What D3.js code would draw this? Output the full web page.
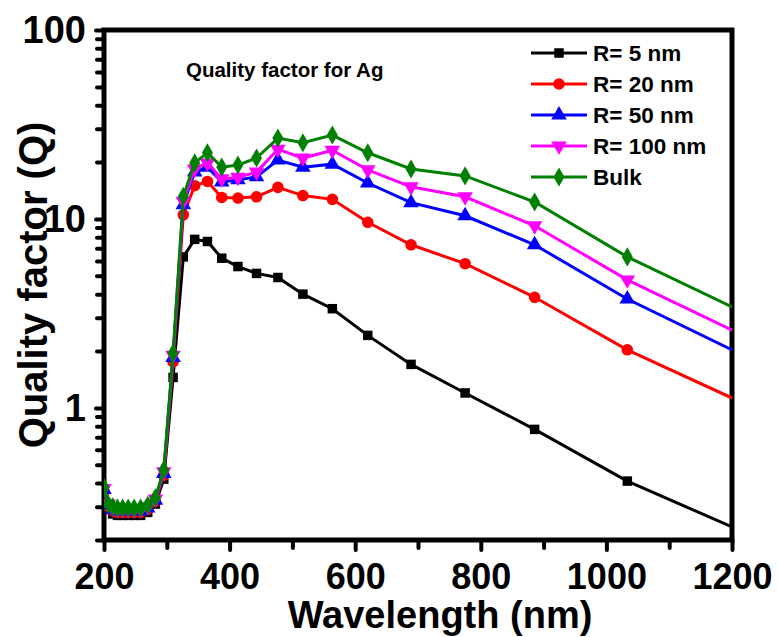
<!DOCTYPE html>
<html lang="en">
<head>
<meta charset="utf-8">
<title>Quality factor for Ag</title>
<script src="https://cdnjs.cloudflare.com/ajax/libs/d3/7.8.5/d3.min.js"></script>
<style>
    body { margin: 0; background: #fff; }
    text { font-family: "Liberation Sans", Arial, sans-serif; font-weight: bold; fill: #000; }
    .tick line { stroke: #000; stroke-linecap: round; }
    .domain { display: none; }
</style>
</head>
<body>
<script>
    var width = 778,
        height = 637;

    // wavelength (nm) of every point, 1240/E for E = 6.2 ... 1.0 eV
    var wavelength = [200, 206.7, 213.8, 221.4, 229.6, 238.5, 248, 258.3, 269.6, 281.8, 295.2,
        310, 326.3, 344.4, 364.7, 387.5, 413.3, 442.9, 476.9, 516.7, 563.6, 620, 688.9,
        775, 885.7, 1033.3, 1240];

    var qR5 = [0.34, 0.29, 0.275, 0.27, 0.27, 0.27, 0.27, 0.27, 0.28, 0.31, 0.42,
        1.45, 6.3, 7.8, 7.6, 6.2, 5.6, 5.15, 4.9, 4.0, 3.35, 2.42, 1.7,
        1.2, 0.77, 0.41, 0.205];
    var qR20 = [0.36, 0.3, 0.285, 0.28, 0.28, 0.28, 0.28, 0.28, 0.29, 0.32, 0.44,
        1.75, 10.5, 15.0, 15.8, 13.0, 12.9, 13.1, 14.7, 13.3, 12.7, 9.6, 7.3,
        5.8, 3.85, 2.03, 0.98];
    var qR50 = [0.37, 0.305, 0.29, 0.285, 0.285, 0.285, 0.285, 0.285, 0.295, 0.325, 0.45,
        1.85, 11.9, 17.7, 18.8, 15.7, 16.1, 16.7, 20.5, 18.8, 19.5, 15.5, 12.2,
        10.4, 7.3, 3.77, 1.75];
    var qR100 = [0.375, 0.31, 0.295, 0.29, 0.29, 0.29, 0.29, 0.29, 0.3, 0.33, 0.46,
        1.9, 12.4, 18.4, 19.8, 16.3, 16.6, 17.7, 23.4, 21.0, 23.1, 18.2, 14.8,
        13.1, 9.2, 4.76, 2.23];
    var qBulk = [0.38, 0.31, 0.3, 0.295, 0.295, 0.295, 0.295, 0.295, 0.305, 0.335, 0.47,
        1.95, 13.2, 19.8, 22.4, 18.8, 19.3, 21.0, 26.8, 25.3, 27.8, 22.4, 18.4,
        16.9, 12.3, 6.3, 2.96];

    var seriesNames = ["R= 5 nm", "R= 20 nm", "R= 50 nm", "R= 100 nm", "Bulk"];
    var seriesValues = [qR5, qR20, qR50, qR100, qBulk];
    var seriesColors = ["#000000", "#ff0000", "#0000ff", "#ff00ff", "#008000"];
    var seriesSymbols = [d3.symbolSquare, d3.symbolCircle, d3.symbolTriangle, d3.symbolTriangle, d3.symbolDiamond];

    var xMajor = [200, 400, 600, 800, 1000, 1200],
        xMinor = [300, 500, 700, 900, 1100],
        yMajor = [1, 10, 100],
        yMinor = [0.2, 0.3, 0.4, 0.5, 0.6, 0.7, 0.8, 0.9, 2, 3, 4, 5, 6, 7, 8, 9,
            20, 30, 40, 50, 60, 70, 80, 90];

    var plotL = 104, plotR = 732, plotT = 30, plotB = 540;

    var x = d3.scaleLinear().domain([200, 1200]).range([plotL, plotR]);
    var y = d3.scaleLog().domain([0.2, 100]).range([plotB, plotT]);

    var svg = d3.select("body").append("svg")
        .attr("width", width)
        .attr("height", height);

    svg.append("defs").append("clipPath")
        .attr("id", "plotClip")
        .append("rect")
        .attr("x", plotL).attr("y", plotT)
        .attr("width", plotR - plotL).attr("height", plotB - plotT);

    //axes

    svg.append("g")
        .attr("transform", "translate(0," + plotB + ")")
        .call(d3.axisBottom(x).tickValues(xMinor).tickSize(8).tickFormat(""))
        .selectAll(".tick line").attr("stroke-width", 4);

    var xAxis = svg.append("g")
        .attr("transform", "translate(0," + plotB + ")")
        .call(d3.axisBottom(x).tickValues(xMajor).tickSize(10).tickPadding(13).tickFormat(d3.format("d")));
    xAxis.selectAll(".tick line").attr("stroke-width", 4);
    xAxis.selectAll("text").attr("font-size", 36).attr("fill", "#000");

    svg.append("g")
        .attr("transform", "translate(" + plotL + ",0)")
        .call(d3.axisLeft(y).tickValues(yMinor).tickSize(7).tickFormat(""))
        .selectAll(".tick line").attr("stroke-width", 4);

    var yAxis = svg.append("g")
        .attr("transform", "translate(" + plotL + ",0)")
        .call(d3.axisLeft(y).tickValues(yMajor).tickSize(8).tickPadding(10).tickFormat(d3.format("d")));
    yAxis.selectAll(".tick line").attr("stroke-width", 4);
    yAxis.selectAll("text").attr("font-size", 38).attr("fill", "#000");

    //frame

    svg.append("rect")
        .attr("x", plotL).attr("y", plotT)
        .attr("width", plotR - plotL).attr("height", plotB - plotT)
        .attr("fill", "none")
        .attr("stroke", "#000")
        .attr("stroke-width", 5);

    //series

    var line = d3.line()
        .x(function(d) { return x(d[0]); })
        .y(function(d) { return y(d[1]); });

    var plot = svg.append("g").attr("clip-path", "url(#plotClip)");

    seriesValues.forEach(function(vals, i) {
        var pts = wavelength.map(function(w, j) { return [w, vals[j]]; });
        plot.append("path")
            .datum(pts)
            .attr("fill", "none")
            .attr("stroke", seriesColors[i])
            .attr("stroke-width", 3)
            .attr("d", line);
        plot.selectAll(".m" + i)
            .data(pts)
            .enter().append("path")
            .attr("class", "m" + i)
            .attr("fill", seriesColors[i])
            .attr("d", d3.symbol().type(seriesSymbols[i]).size(i === 0 ? 90 : 105))
            .attr("transform", function(d) {
                return "translate(" + x(d[0]) + "," + y(d[1]) + ")" + (i === 3 ? " rotate(180)" : "");
            });
    });

    //legend

    var legend = svg.append("g");
    seriesNames.forEach(function(name, i) {
        var ly = 53 + i * 31;
        legend.append("line")
            .attr("x1", 531).attr("x2", 587)
            .attr("y1", ly).attr("y2", ly)
            .attr("stroke", seriesColors[i])
            .attr("stroke-width", 3);
        legend.append("path")
            .attr("fill", seriesColors[i])
            .attr("d", d3.symbol().type(seriesSymbols[i]).size(i === 0 ? 90 : 105))
            .attr("transform", "translate(559," + ly + ")" + (i === 3 ? " rotate(180)" : ""));
        legend.append("text")
            .attr("x", 593).attr("y", ly + 8)
            .attr("font-size", 22.5)
            .text(name);
    });

    //titles

    svg.append("text")
        .attr("x", 186).attr("y", 77)
        .attr("font-size", 20.5)
        .text("Quality factor for Ag");

    svg.append("text")
        .attr("x", 440).attr("y", 628)
        .attr("text-anchor", "middle")
        .attr("font-size", 38)
        .text("Wavelength (nm)");

    svg.append("text")
        .attr("transform", "translate(47," + (plotT + plotB) / 2 + ") rotate(-90)")
        .attr("text-anchor", "middle")
        .attr("font-size", 40)
        .text("Quality factor (Q)");
</script>
</body>
</html>
